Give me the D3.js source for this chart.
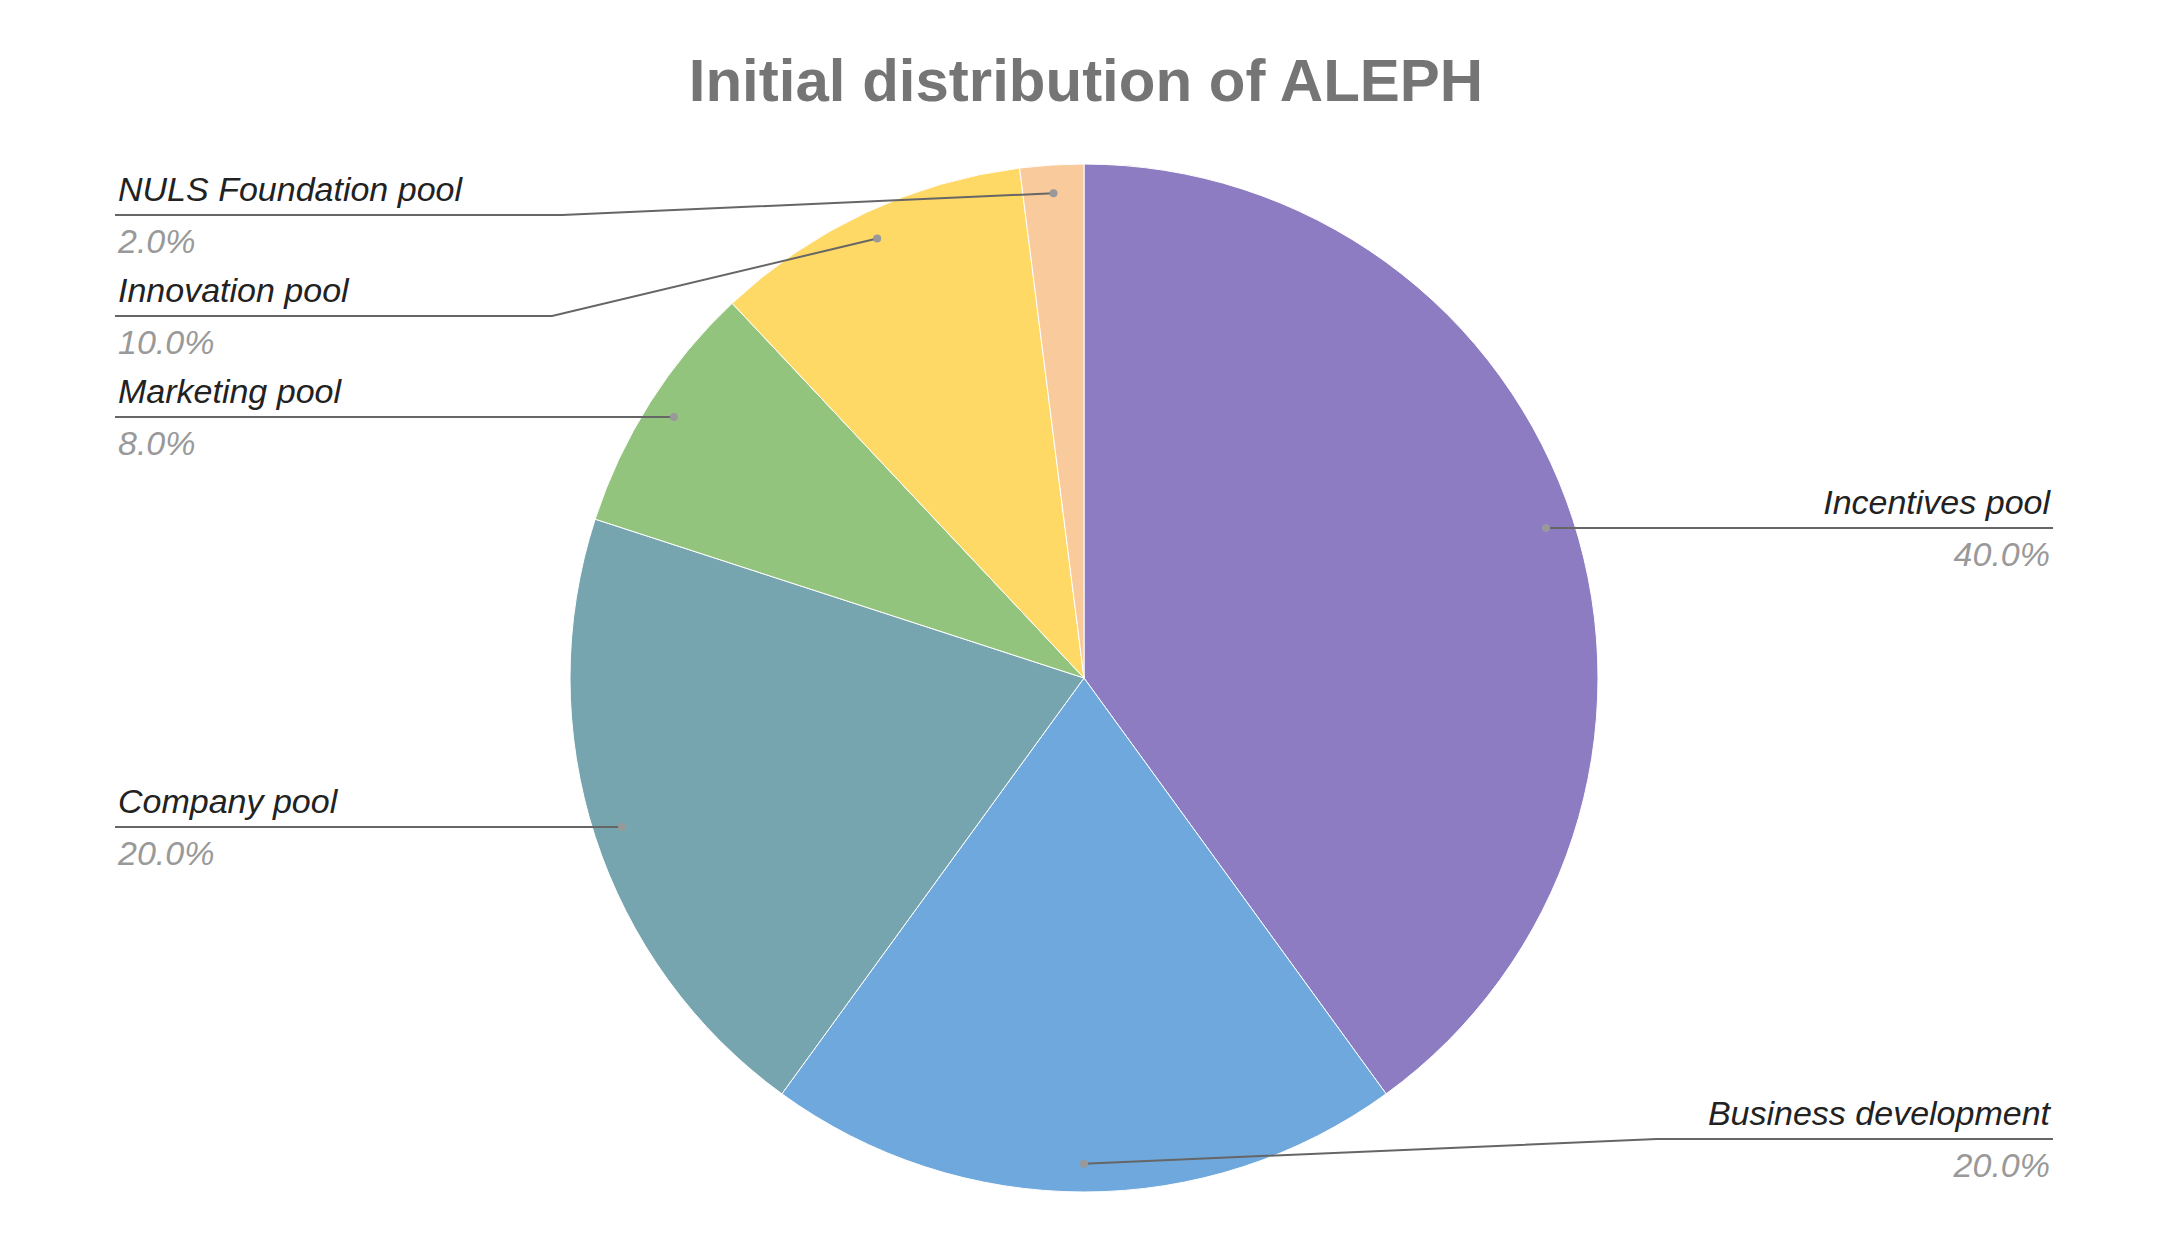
<!DOCTYPE html>
<html><head><meta charset="utf-8">
<script src="https://cdn.jsdelivr.net/npm/d3@7"></script>
<style>body{margin:0;background:#fff}</style>
</head><body><div id="chart"></div>
<script>
const labels = ["Incentives pool", "Business development", "Company pool", "Marketing pool", "Innovation pool", "NULS Foundation pool"];
const values = [40, 20, 20, 8, 10, 2];
const colors = ["#8e7cc3", "#6fa8dc", "#76a5af", "#93c47d", "#ffd966", "#f9cb9c"];

const w = 2176, h = 1250;
const cx = 1084, cy = 678, r = 514;
const font = "'Liberation Sans', Arial, sans-serif";

const svg = d3.select("#chart").append("svg").attr("width", w).attr("height", h);

svg.append("text").attr("x", w / 2 - 2).attr("y", 101).attr("text-anchor", "middle")
    .attr("font-family", font).attr("font-weight", "bold").attr("font-size", 60)
    .attr("fill", "#757575").text("Initial distribution of ALEPH");

const pie = d3.pie().sort(null).value(d => d)(values);
const arc = d3.arc().innerRadius(0).outerRadius(r);
const dotArc = d3.arc().innerRadius(r * 0.945).outerRadius(r * 0.945);

const g = svg.append("g").attr("transform", `translate(${cx},${cy})`);
g.selectAll("path").data(pie).enter().append("path")
    .attr("d", arc).attr("fill", (d, i) => colors[i])
    .attr("stroke", "#fff").attr("stroke-width", 1);

// label placement: line y, side, optional elbow x
const layout = [
    { y: 528, side: "right" },
    { y: 1139, side: "right", elbow: 1657 },
    { y: 827, side: "left" },
    { y: 417, side: "left" },
    { y: 316, side: "left", elbow: 552 },
    { y: 215, side: "left", elbow: 562 }
];
const leftX = 115, rightX = 2053;
const total = d3.sum(values);

pie.forEach((d, i) => {
    const c = dotArc.centroid(d);
    const px = cx + c[0], py = cy + c[1];
    const L = layout[i];
    const endX = L.side === "left" ? leftX : rightX;
    const pts = L.elbow ? [[px, py], [L.elbow, L.y], [endX, L.y]] : [[px, L.y], [endX, L.y]];
    svg.append("path").attr("d", d3.line()(pts)).attr("fill", "none")
        .attr("stroke", "#666").attr("stroke-width", 2);
    svg.append("circle").attr("cx", px).attr("cy", L.elbow ? py : L.y).attr("r", 4).attr("fill", "#999");
    const anchor = L.side === "left" ? "start" : "end";
    const tx = L.side === "left" ? leftX + 3 : rightX - 3;
    svg.append("text").attr("x", tx).attr("y", L.y - 14).attr("text-anchor", anchor)
        .attr("font-family", font).attr("font-style", "italic").attr("font-size", 34)
        .attr("fill", "#222").text(labels[i]);
    svg.append("text").attr("x", tx).attr("y", L.y + 38).attr("text-anchor", anchor)
        .attr("font-family", font).attr("font-style", "italic").attr("font-size", 34)
        .attr("fill", "#999").text((values[i] / total * 100).toFixed(1) + "%");
});
</script></body></html>
